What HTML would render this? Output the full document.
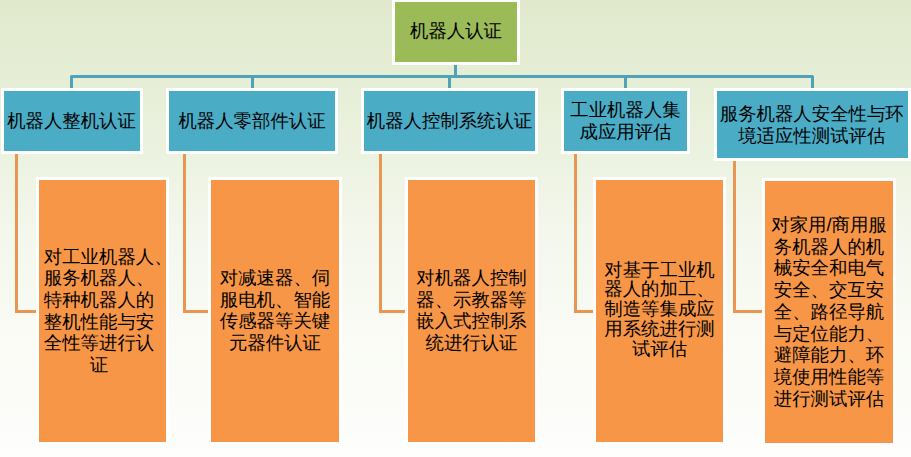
<!DOCTYPE html>
<html><head><meta charset="utf-8">
<style>
html,body{margin:0;padding:0;}
body{width:911px;height:457px;overflow:hidden;position:relative;
background:linear-gradient(to bottom,#e0e9cc 0%,#e9f0db 26%,#f3f7ec 50%,#f9fbf4 72%,#fdfdfb 96%,#fefefc 100%);
font-family:"Liberation Sans",sans-serif;color:#000;}
.b{position:absolute;border:3px solid #fff;box-sizing:content-box;}
.g{background:#9bbb59;}
.c{background:#4bacc6;}
.o{background:#f79646;}
.l{position:absolute;background:#4fa2b8;}
.lo{position:absolute;background:#ea9653;}
.t{position:absolute;left:0;right:0;text-align:center;white-space:nowrap;font-size:18.4px;text-rendering:geometricPrecision;line-height:21.7px;}
.hang{display:inline-block;width:0;}
</style></head><body>
<!-- teal connectors -->
<svg style="position:absolute;left:0;top:0" width="911" height="457" viewBox="0 0 911 457">
<g fill="none" stroke="#4fa2b8" stroke-width="3" stroke-linejoin="round">
<path d="M71.5 89V76.5H812.5V89"/>
<path d="M455.5 64V76.5M252.5 76.5V89M449.5 76.5V89M625.5 76.5V89"/>
</g></svg>
<!-- orange connectors -->
<div class="lo" style="left:15px;top:153px;width:3px;height:160px"></div>
<div class="lo" style="left:15px;top:310px;width:22px;height:3px"></div>
<div class="lo" style="left:183px;top:153px;width:3px;height:160px"></div>
<div class="lo" style="left:183px;top:310px;width:26px;height:3px"></div>
<div class="lo" style="left:379px;top:153px;width:3px;height:160px"></div>
<div class="lo" style="left:379px;top:310px;width:27px;height:3px"></div>
<div class="lo" style="left:574px;top:153px;width:3px;height:160px"></div>
<div class="lo" style="left:574px;top:310px;width:20px;height:3px"></div>
<div class="lo" style="left:733px;top:160px;width:3px;height:153px"></div>
<div class="lo" style="left:733px;top:310px;width:30px;height:3px"></div>

<!-- top green -->
<div class="b g" style="left:392px;top:-1px;width:122px;height:60px">
 <div class="t" style="top:18px">机器人认证</div>
</div>
<!-- blue row -->
<div class="b c" style="left:1px;top:88px;width:136px;height:60px">
 <div class="t" style="top:19px;left:-1px">机器人整机认证</div>
</div>
<div class="b c" style="left:166px;top:88px;width:166px;height:60px">
 <div class="t" style="top:19px">机器人零部件认证</div>
</div>
<div class="b c" style="left:361px;top:88px;width:171px;height:60px">
 <div class="t" style="top:19px">机器人控制系统认证</div>
</div>
<div class="b c" style="left:561px;top:88px;width:123px;height:60px">
 <div class="t" style="top:8px;line-height:22.4px">工业机器人集<br>成应用评估</div>
</div>
<div class="b c" style="left:714px;top:88px;width:191px;height:67px">
 <div class="t" style="top:12px;left:-1.5px">服务机器人安全性与环<br>境适应性测试评估</div>
</div>
<!-- orange row -->
<div class="b o" style="left:36px;top:177px;width:127px;height:262px">
 <div class="t" style="top:65.5px;left:-7px">对工业机器人<span class="hang">、</span><br>服务机器人、<br>特种机器人的<br>整机性能与安<br>全性等进行认<br>证</div>
</div>
<div class="b o" style="left:208px;top:177px;width:128px;height:262px">
 <div class="t" style="top:87px">对减速器、伺<br>服电机、智能<br>传感器等关键<br>元器件认证</div>
</div>
<div class="b o" style="left:405px;top:177px;width:127px;height:262px">
 <div class="t" style="top:87px">对机器人控制<br>器、示教器等<br>嵌入式控制系<br>统进行认证</div>
</div>
<div class="b o" style="left:593px;top:177px;width:127px;height:262px">
 <div class="t" style="top:79.5px;line-height:19.8px">对基于工业机<br>器人的加工、<br>制造等集成应<br>用系统进行测<br>试评估</div>
</div>
<div class="b o" style="left:762px;top:178px;width:128px;height:262px">
 <div class="t" style="top:33px">对家用/商用服<br>务机器人的机<br>械安全和电气<br>安全、交互安<br>全、路径导航<br>与定位能力、<br>避障能力、环<br>境使用性能等<br>进行测试评估</div>
</div>
</body></html>
